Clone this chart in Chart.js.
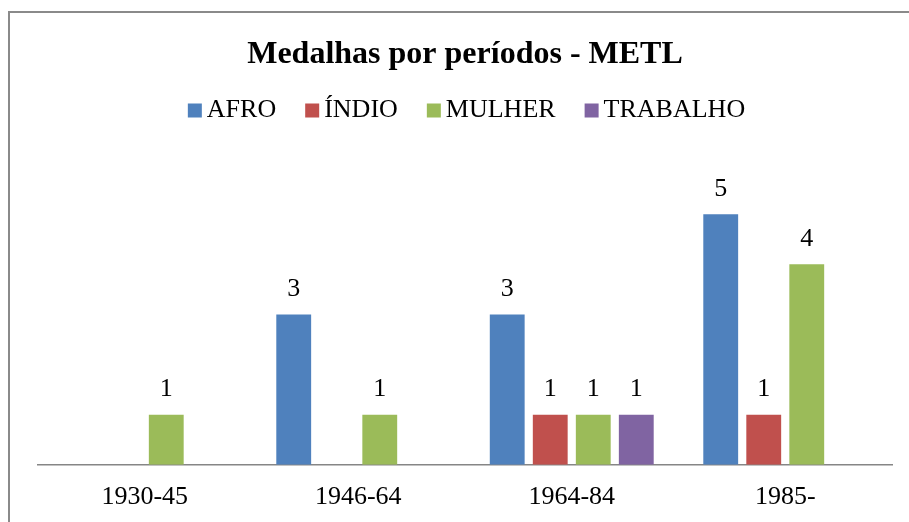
<!DOCTYPE html>
<html>
<head>
<meta charset="utf-8">
<script src="https://cdn.jsdelivr.net/npm/chart.js@4"></script>
<style>
  html, body { margin: 0; padding: 0; background: #fff; overflow: hidden; width: 909px; height: 522px; }
  #moldura {
    position: absolute; left: 8px; top: 11px; width: 901px; height: 511px; overflow: hidden;
    border-left: 2px solid #8a8a8a; border-top: 2px solid #8a8a8a;
  }
  canvas { display: block; }
</style>
</head>
<body>
<div id="moldura"><canvas id="medalhas" width="913" height="520"></canvas></div>
<script>
const periodos = ['1930-45', '1946-64', '1964-84', '1985-'];
const afro = [null, 3, 3, 5];
const indio = [null, null, 1, 1];
const mulher = [1, 1, 1, 4];
const trabalho = [null, null, 1, null];

const fonte = '"Liberation Serif", "Times New Roman", serif';

// rótulos de valor acima das barras
const rotulos = {
  id: 'rotulos',
  afterDatasetsDraw(chart) {
    const ctx = chart.ctx;
    ctx.save();
    ctx.font = '26px ' + fonte;
    ctx.fillStyle = '#000';
    ctx.textAlign = 'center';
    ctx.textBaseline = 'middle';
    chart.data.datasets.forEach((ds, i) => {
      chart.getDatasetMeta(i).data.forEach((bar, j) => {
        const v = ds.data[j];
        if (v == null) return;
        ctx.fillText(v, bar.x, bar.y - 25);
      });
    });
    ctx.restore();
  }
};

// legenda com o quadradinho colado no texto
const legenda = {
  id: 'legenda',
  afterDraw(chart) {
    const ctx = chart.ctx;
    const caixa = 14, folga = 5, espaco = 29;
    ctx.save();
    ctx.font = '26px ' + fonte;
    const itens = chart.data.datasets.map(ds => ({
      texto: ds.label, cor: ds.backgroundColor, w: ctx.measureText(ds.label).width
    }));
    const total = itens.reduce((s, it) => s + caixa + folga + it.w, 0) + espaco * (itens.length - 1);
    let x = chart.width / 2 - total / 2;
    const y = 97.5;
    ctx.textBaseline = 'middle';
    ctx.textAlign = 'left';
    itens.forEach(it => {
      ctx.fillStyle = it.cor;
      ctx.fillRect(x, y - caixa / 2, caixa, caixa);
      ctx.fillStyle = '#000';
      ctx.fillText(it.texto, x + caixa + folga, y);
      x += caixa + folga + it.w + espaco;
    });
    ctx.restore();
  }
};

const ctx = document.getElementById('medalhas').getContext('2d');

new Chart(ctx, {
  type: 'bar',
  data: {
    labels: periodos,
    datasets: [
      { label: 'AFRO', data: afro, backgroundColor: '#4F81BD' },
      { label: 'ÍNDIO', data: indio, backgroundColor: '#C0504D' },
      { label: 'MULHER', data: mulher, backgroundColor: '#9BBB59' },
      { label: 'TRABALHO', data: trabalho, backgroundColor: '#8064A2' }
    ]
  },
  options: {
    responsive: false,
    animation: false,
    devicePixelRatio: 1,
    categoryPercentage: 0.806,
    barPercentage: 0.81,
    layout: { padding: { left: 28, right: 31, top: 0, bottom: 3 } },
    plugins: {
      legend: { display: false },
      tooltip: { enabled: false },
      title: {
        display: true,
        text: 'Medalhas por períodos - METL',
        color: '#000',
        padding: { top: 23, bottom: 89.6 },
        font: { family: fonte, size: 32, weight: 'bold' }
      }
    },
    scales: {
      x: {
        grid: { display: false, drawTicks: false },
        border: { display: true, color: '#868686', width: 1.5 },
        ticks: { color: '#000', padding: 17, font: { family: fonte, size: 26 } }
      },
      y: { display: false, min: 0, max: 6 }
    }
  },
  plugins: [rotulos, legenda]
});
</script>
</body>
</html>
